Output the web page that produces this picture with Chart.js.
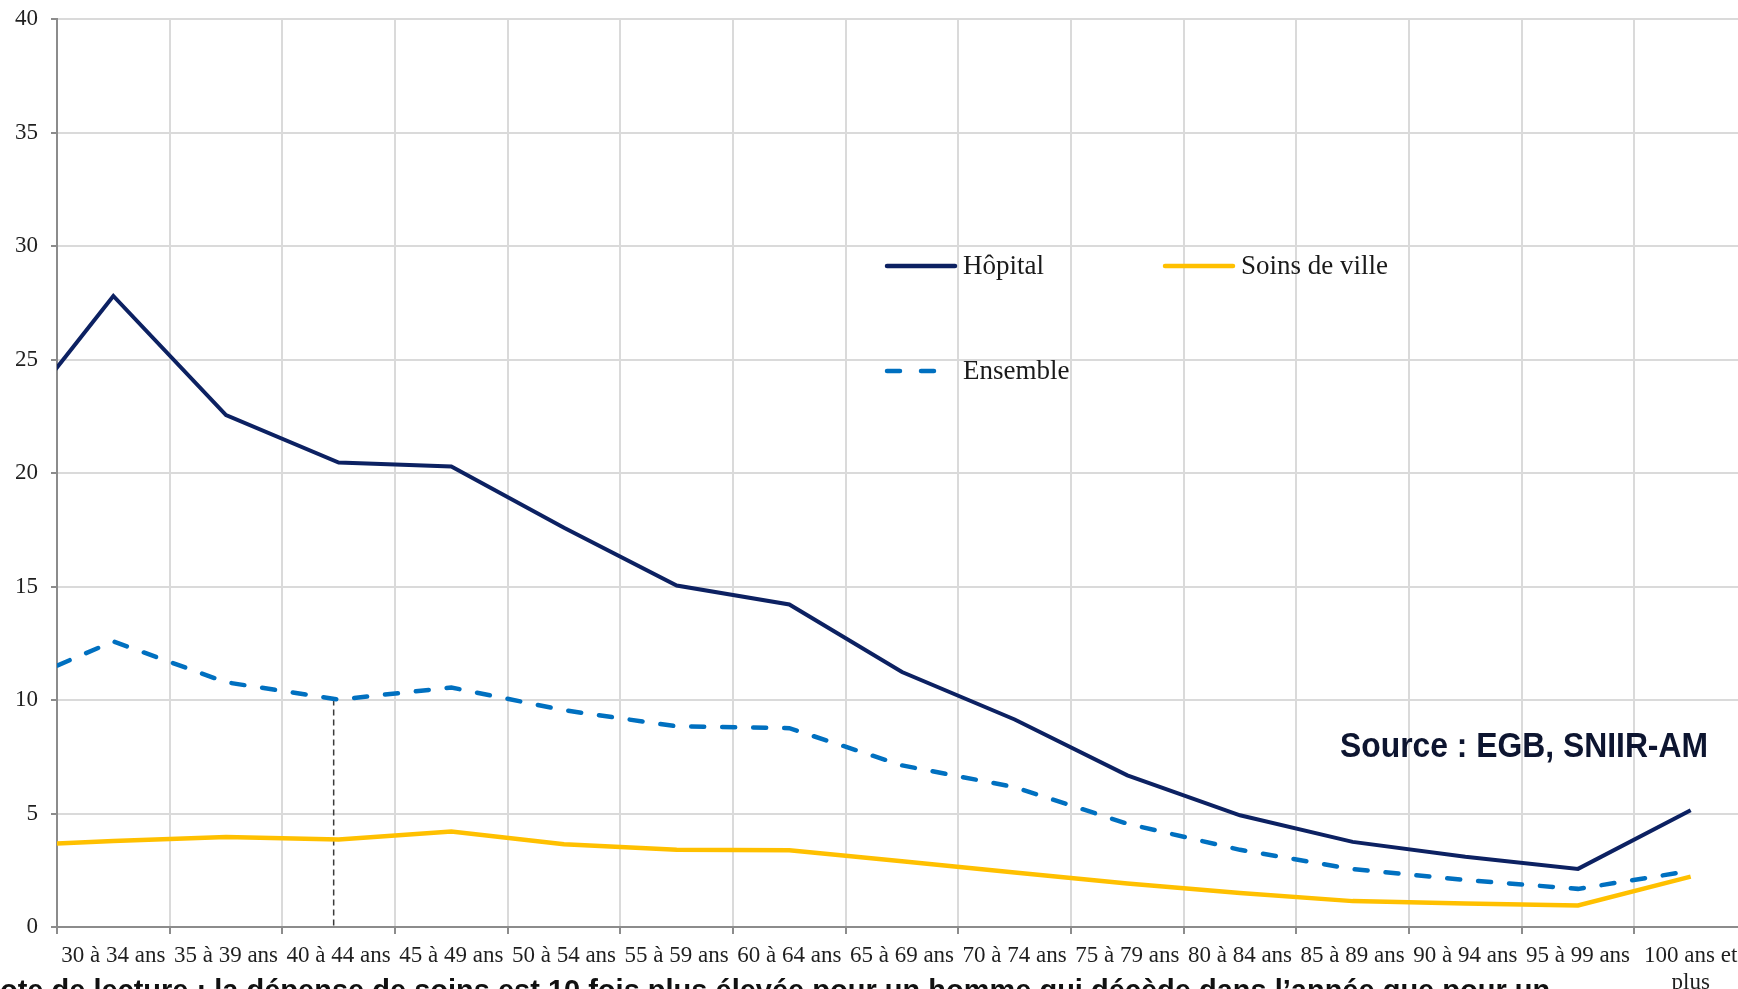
<!DOCTYPE html>
<html lang="fr">
<head>
<meta charset="utf-8">
<title>Dépense de soins selon l'âge au décès</title>
<script src="https://cdn.jsdelivr.net/npm/chart.js@4/dist/chart.umd.min.js"></script>
<style>
  html, body { margin: 0; padding: 0; background: #fff; overflow: hidden; }
  #wrap { position: relative; width: 1750px; height: 989px; }
</style>
</head>
<body>
<div id="wrap"><canvas id="chart" width="1750" height="989"></canvas></div>
<script>
// age groups (the first one sits just left of the visible axis, as in the source chart)
const ageGroups = [
  '25 à 29 ans', '30 à 34 ans', '35 à 39 ans', '40 à 44 ans', '45 à 49 ans',
  '50 à 54 ans', '55 à 59 ans', '60 à 64 ans', '65 à 69 ans', '70 à 74 ans',
  '75 à 79 ans', '80 à 84 ans', '85 à 89 ans', '90 à 94 ans', '95 à 99 ans',
  ['100 ans et', 'plus']
];
const hopital      = [21.5, 27.8, 22.55, 20.46, 20.29, 17.59, 15.04, 14.21, 11.23, 9.14, 6.68, 4.92, 3.75, 3.09, 2.56, 5.14];
const ensemble     = [10.45, 12.58, 10.78, 10.02, 10.55, 9.55, 8.84, 8.76, 7.12, 6.16, 4.55, 3.4, 2.55, 2.07, 1.68, 2.47];
const soinsDeVille = [3.57, 3.79, 3.97, 3.85, 4.21, 3.65, 3.4, 3.38, 2.9, 2.4, 1.92, 1.5, 1.14, 1.03, 0.95, 2.22];
const yMin = 0, yMax = 40, yStep = 5;
const markedGroup = 3; // 40 à 44 ans, drop line

const serif = "'Liberation Serif', 'DejaVu Serif', serif";
const sans = "'Liberation Sans', Arial, sans-serif";

// vertical dashed line from the Ensemble point down to the axis
const dropLine = {
  id: 'dropLine',
  beforeDatasetsDraw(chart) {
    const {ctx, scales: {x, y}} = chart;
    const px = x.getPixelForValue(markedGroup) - 5;
    ctx.save();
    ctx.strokeStyle = '#3a3a3a';
    ctx.lineWidth = 1.5;
    ctx.setLineDash([6, 4]);
    ctx.beginPath();
    ctx.moveTo(px, y.getPixelForValue(ensemble[markedGroup]));
    ctx.lineTo(px, y.getPixelForValue(0));
    ctx.stroke();
    ctx.restore();
  }
};

// legend inside the plot, source and reading note
const extras = {
  id: 'extras',
  afterDraw(chart) {
    const ctx = chart.ctx;
    const items = [
      {label: 'Hôpital', color: '#0c2162', dash: [], x: 887, y: 266},
      {label: 'Soins de ville', color: '#FFC000', dash: [], x: 1165, y: 266},
      {label: 'Ensemble', color: '#0070C0', dash: [13, 21], x: 887, y: 371}
    ];
    ctx.save();
    items.forEach(it => {
      ctx.strokeStyle = it.color;
      ctx.lineWidth = 4.5;
      ctx.lineCap = 'round';
      ctx.setLineDash(it.dash);
      ctx.beginPath();
      ctx.moveTo(it.x, it.y);
      ctx.lineTo(it.x + 68, it.y);
      ctx.stroke();
      ctx.setLineDash([]);
      ctx.fillStyle = '#1a1a1a';
      ctx.font = '27px ' + serif;
      ctx.textBaseline = 'middle';
      ctx.fillText(it.label, it.x + 76, it.y + 1);
    });

    ctx.fillStyle = '#0d1530';
    ctx.font = 'bold 35px ' + sans;
    ctx.textBaseline = 'alphabetic';
    ctx.fillText('Source : EGB, SNIIR-AM', 1340, 757, 368);

    ctx.fillStyle = '#111';
    ctx.font = 'bold 29px ' + sans;
    ctx.fillText("Note de lecture : la dépense de soins est 10 fois plus élevée pour un homme qui décède dans l’année que pour un", -21, 1000, 1578);
    ctx.restore();
  }
};

new Chart(document.getElementById('chart'), {
  type: 'line',
  data: {
    labels: ageGroups,
    datasets: [
      {label: 'Hôpital', data: hopital, borderColor: '#0c2162', borderWidth: 4},
      {label: 'Ensemble', data: ensemble, borderColor: '#0070C0', borderWidth: 4.5,
       borderDash: [13, 18], borderCapStyle: 'round'},
      {label: 'Soins de ville', data: soinsDeVille, borderColor: '#FFC000', borderWidth: 4.5}
    ]
  },
  options: {
    responsive: false,
    animation: false,
    events: [],
    elements: {point: {radius: 0}, line: {tension: 0}},
    layout: {padding: {left: 0, top: 19, right: 3, bottom: 0}},
    plugins: {legend: {display: false}, tooltip: {enabled: false}},
    scales: {
      x: {
        type: 'category',
        min: '30 à 34 ans',
        offset: true,
        grid: {offset: true, color: '#dadada', lineWidth: 2, tickLength: 7, tickColor: '#8c8c8c', tickWidth: 2},
        border: {color: '#8c8c8c', width: 2},
        ticks: {autoSkip: false, maxRotation: 0, padding: 8, color: '#1f1f1f', font: {family: serif, size: 23}},
        afterFit(scale) { scale.height = 62; scale.paddingLeft = 0; scale.paddingRight = 0; }
      },
      y: {
        min: yMin,
        max: yMax,
        grid: {color: '#dadada', lineWidth: 2, tickLength: 6, tickColor: '#8c8c8c', tickWidth: 2},
        border: {color: '#8c8c8c', width: 2},
        ticks: {stepSize: yStep, padding: 13, color: '#1f1f1f', font: {family: serif, size: 23}},
        afterFit(scale) { scale.width = 57; scale.paddingTop = 0; scale.paddingBottom = 0; }
      }
    }
  },
  plugins: [dropLine, extras]
});
</script>
</body>
</html>
